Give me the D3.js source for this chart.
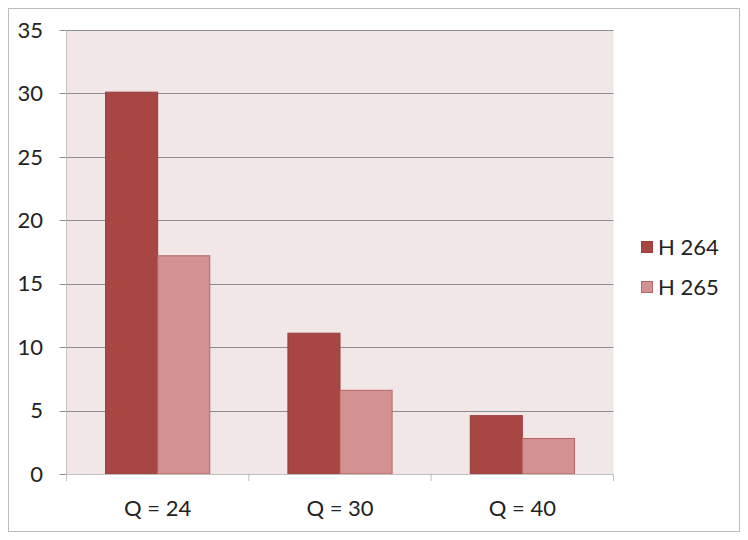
<!DOCTYPE html>
<html><head><meta charset="utf-8">
<script src="https://cdn.jsdelivr.net/npm/d3@7"></script>
<style>body{margin:0;background:#fff}svg{display:block}</style>
</head><body>
<script>
const categories = ["Q = 24", "Q = 30", "Q = 40"];
const seriesNames = ["H 264", "H 265"];
const h264 = [30.1, 11.1, 4.6];
const h265 = [17.2, 6.6, 2.8];
const yTicks = [0, 5, 10, 15, 20, 25, 30, 35];
const colors = ["#a84644", "#d39292"];
const strokes = ["#9a3e3c", "#b86464"];

(function () {
const W = 748, H = 540;
const svg = d3.select("body").append("svg").attr("width", W).attr("height", H);
svg.append("rect").attr("x", 8.5).attr("y", 8.5).attr("width", 731).attr("height", 523)
  .attr("fill", "#fff").attr("stroke", "#bdbdbd");

const pl = 66.5, pr = 613.5, pt = 30, pb = 474;
const x = d3.scaleBand().domain(categories).range([pl, pr]).paddingInner(0).paddingOuter(0);
const y = d3.scaleLinear().domain([0, 35]).range([pb, pt]);
const font = "Lato, 'Open Sans', sans-serif";

svg.append("rect").attr("x", pl).attr("y", pt).attr("width", pr - pl).attr("height", pb - pt)
  .attr("fill", "#f2e7e7");

// gridlines
svg.append("g").selectAll("line").data(yTicks.filter(d => d > 0)).join("line")
  .attr("x1", pl - 7).attr("x2", pr).attr("y1", d => Math.round(y(d)) + 0.5).attr("y2", d => Math.round(y(d)) + 0.5)
  .attr("stroke", "#8e8e8e").attr("stroke-width", 1);

// bars
const bw = x.bandwidth() / 3.5;
const data = [h264, h265];
data.forEach((vals, si) => {
  svg.append("g").selectAll("rect").data(vals).join("rect")
    .attr("x", (d, i) => x(categories[i]) + bw * 0.75 + si * bw)
    .attr("y", d => y(d))
    .attr("width", bw)
    .attr("height", d => y(0) - y(d))
    .attr("fill", colors[si]).attr("stroke", strokes[si]).attr("stroke-width", 1);
});

// y axis
svg.append("line").attr("x1", pl).attr("x2", pl).attr("y1", pt).attr("y2", pb)
  .attr("stroke", "#bfbfbf");
svg.append("line").attr("x1", pl - 7).attr("x2", pl).attr("y1", pb + 0.5).attr("y2", pb + 0.5)
  .attr("stroke", "#8e8e8e");
svg.append("g").selectAll("text").data(yTicks).join("text")
  .attr("x", 43).attr("y", d => y(d)).attr("dy", "0.35em").attr("text-anchor", "end")
  .attr("font-family", font).attr("font-size", 22).attr("fill", "#222").text(d => d);

// x axis
svg.append("line").attr("x1", pl).attr("x2", pr).attr("y1", pb + 0.5).attr("y2", pb + 0.5)
  .attr("stroke", "#bfbfbf");
const tickX = [pl, ...categories.map(c => x(c) + x.bandwidth())];
svg.append("g").selectAll("line").data(tickX).join("line")
  .attr("x1", d => d).attr("x2", d => d)
  .attr("y1", pb).attr("y2", pb + 7).attr("stroke", "#bfbfbf");
svg.append("g").selectAll("text").data(categories).join("text")
  .attr("x", d => x(d) + x.bandwidth() / 2).attr("y", 508).attr("dy", "0.35em").attr("text-anchor", "middle")
  .attr("font-family", font).attr("font-size", 22).attr("fill", "#222").text(d => d);

// legend
const lg = svg.append("g");
seriesNames.forEach((n, i) => {
  const yy = 241 + i * 40;
  lg.append("rect").attr("x", 641.5).attr("y", yy + 0.5).attr("width", 11).attr("height", 11)
    .attr("fill", colors[i]).attr("stroke", strokes[i]);
  lg.append("text").attr("x", 658).attr("y", yy + 6).attr("dy", "0.35em")
    .attr("font-family", font).attr("font-size", 22).attr("fill", "#222").text(n);
});
})();
</script>
</body></html>
